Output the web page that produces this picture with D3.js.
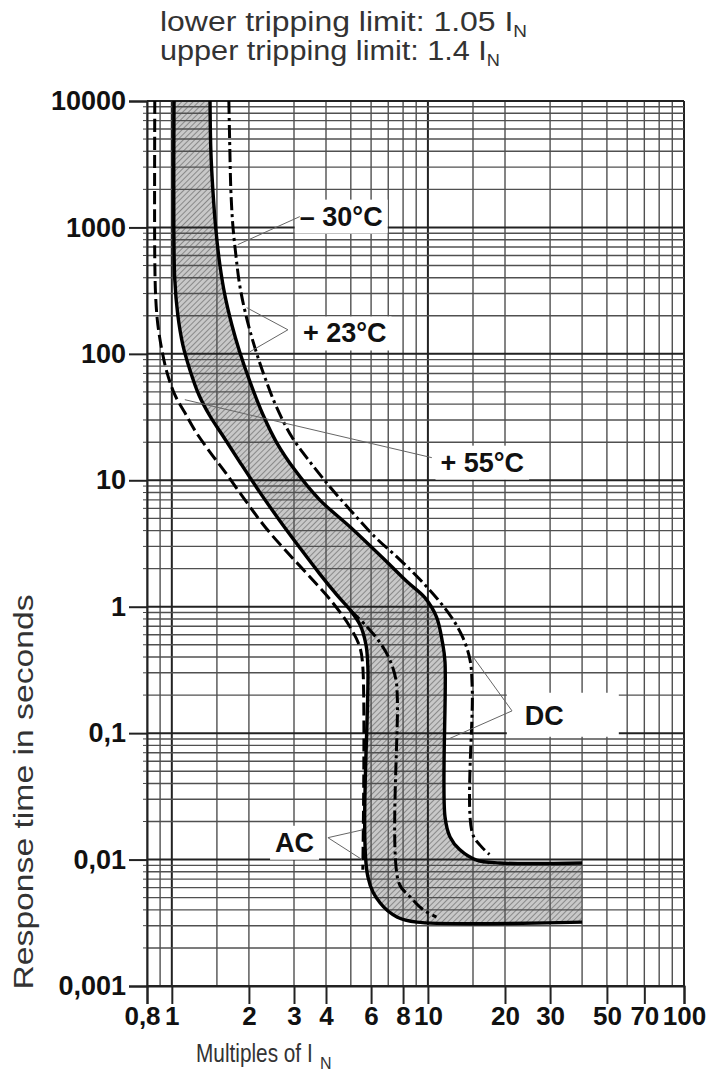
<!DOCTYPE html>
<html>
<head>
<meta charset="utf-8">
<script src="https://cdn.jsdelivr.net/npm/d3@7"></script>
<style>
body { margin: 0; background: #fff; }
svg { display: block; font-family: "Liberation Sans", Arial, Helvetica, sans-serif; }
</style>
</head>
<body>
<div id="chart"></div>
<script>
// curves, points are [multiple of I_N, seconds]
var lowerSolid = [[1.02,10000],[1.018,1153],[1.027,386],[1.055,204],[1.104,118],[1.176,75],[1.275,47.5],[1.407,32.4],[1.582,22.5],[1.84,14.0],[2.2,8.1],[2.64,4.79],[3.16,2.93],[3.78,1.82],[4.41,1.24],[4.96,0.946],[5.43,0.72],[5.73,0.5],[5.83,0.329],[5.83,0.0073],[6.5,0.00455],[7.6,0.0035],[9.05,0.0032],[40,0.0032]];
var upperSolid = [[1.41,10000],[1.42,4130],[1.446,1990],[1.486,961],[1.54,508],[1.61,294],[1.715,170],[1.84,104],[2.02,60],[2.27,33],[2.57,19.8],[3.02,12.1],[3.78,7.0],[4.96,4.29],[6.78,2.35],[8.28,1.58],[9.73,1.18],[10.8,0.83],[11.4,0.52],[11.66,0.367],[11.66,0.0218],[12.2,0.0151],[13.3,0.012],[15.5,0.0099],[19.1,0.0094],[40,0.0094]];
var dashed55 = [[0.858,10000],[0.858,556],[0.866,268],[0.882,170],[0.914,108],[0.956,72],[1.027,47.5],[1.124,34.3],[1.24,24.2],[1.407,16.8],[1.61,11.7],[1.93,7.0],[2.31,4.29],[2.76,2.83],[3.4,1.79],[4.25,1.075],[4.96,0.695],[5.42,0.48],[5.57,0.335],[5.57,0.0083]];
var dashDot30 = [[1.67,10000],[1.685,4130],[1.70,1990],[1.73,1052],[1.778,609],[1.84,352],[1.945,204],[2.11,112],[2.31,64.9],[2.57,37.5],[2.94,22.1],[3.46,14.0],[4.14,8.9],[4.96,5.85],[6.2,3.58],[7.78,2.35],[9.31,1.64],[10.94,1.14],[12.4,0.818],[13.7,0.569],[14.6,0.38],[14.9,0.22],[14.9,0.0163],[16.2,0.0126],[17.4,0.011]];
var dashDotDC = [[4.96,0.946],[5.78,0.695],[6.5,0.52],[7.1,0.38],[7.5,0.265],[7.6,0.184],[7.7,0.00655],[8.5,0.0051],[9.6,0.0040],[10.8,0.0035]];

var xTicks = [0.8,1,2,3,4,6,8,10,20,30,50,70,100];
var xTickLabels = ["0,8","1","2","3","4","6","8","10","20","30","50","70","100"];
var yTicks = [0.001,0.01,0.1,1,10,100,1000,10000];
var yTickLabels = ["0,001","0,01","0,1","1","10","100","1000","10000"];
var xGrid = [0.8,0.9,1,1.5,2,3,4,5,6,7,8,9,10,15,20,30,40,50,60,70,80,90,100];
var yGridSteps = [1,2,3,4,5,6,7,8,9];

// annotations: text, left/baseline anchor, leader polyline
var noteTexts = ["\u2013 30\u00b0C","+ 23\u00b0C","+ 55\u00b0C","DC","AC"];
var noteAnchors = [[3.16,1033],[3.25,123],[11.2,11.7],[23.9,0.1165],[2.53,0.01153]];
var noteLeaders = [
  [[3.16,1218],[1.81,731]],
  [[1.96,232],[2.84,155],[2.02,104]],
  [[10.36,15.1],[1.124,43.4]],
  [[15.0,0.402],[21.3,0.150],[11.86,0.0887]],
  [[5.57,0.0172],[4.07,0.0149],[5.53,0.01]]
];
// white box margin round each label: left, right, top, bottom
var notePads = [[5,5,2,2],[5,5,2,2],[5,5,2,2],[18,55,8,6],[5,5,2,2]];

var width = 718, height = 1074;
var svg = d3.select("#chart").append("svg")
  .attr("width", width)
  .attr("height", height);
svg.append("rect").attr("width", width).attr("height", height).attr("fill", "#fff");

var x = d3.scaleLog().domain([0.8, 100]).range([147, 684]);
var y = d3.scaleLog().domain([0.001, 10000]).range([986, 101]);

// hatch for the tripping band
var defs = svg.append("defs");
var pat = defs.append("pattern")
  .attr("id", "hatch")
  .attr("patternUnits", "userSpaceOnUse")
  .attr("width", 4).attr("height", 4)
  .attr("patternTransform", "rotate(45)");
pat.append("rect").attr("width", 4).attr("height", 4).attr("fill", "#c8c8c8");
pat.append("line").attr("x1", 0).attr("y1", 0).attr("x2", 0).attr("y2", 4)
  .attr("stroke", "#6e6e6e").attr("stroke-width", 1.4);

var line = d3.line()
  .x(function(d) { return x(d[0]); })
  .y(function(d) { return y(d[1]); })
  .curve(d3.curveCatmullRom.alpha(0.5));

// band between lower and upper limit
var bandPath = line(lowerSolid) + "L" + line(upperSolid.slice().reverse()).slice(1) + "Z";
svg.append("path").attr("d", bandPath).attr("fill", "url(#hatch)").attr("stroke", "none");

// grid
var yGrid = [];
yTicks.forEach(function(d) {
  if (d == 10000) { yGrid.push(d); return; }
  yGridSteps.forEach(function(s) { yGrid.push(d * s); });
});
var grid = svg.append("g").attr("class", "grid");
grid.selectAll(".vg").data(xGrid).enter().append("line")
  .attr("x1", function(d) { return x(d); })
  .attr("x2", function(d) { return x(d); })
  .attr("y1", y(10000)).attr("y2", y(0.001))
  .attr("stroke", function(d) { return (d == 1 || d == 10 || d == 100) ? "#222" : "#505050"; })
  .attr("stroke-width", function(d) { return (d == 1 || d == 10 || d == 100) ? 2 : 1.4; });
grid.selectAll(".hg").data(yGrid).enter().append("line")
  .attr("y1", function(d) { return y(d); })
  .attr("y2", function(d) { return y(d); })
  .attr("x1", x(0.8)).attr("x2", x(100))
  .attr("stroke", function(d) { return yTicks.indexOf(d) >= 0 ? "#222" : "#505050"; })
  .attr("stroke-width", function(d) { return yTicks.indexOf(d) >= 0 ? 2 : 1.4; });

// axes
var yAxis = svg.append("g")
  .attr("transform", "translate(" + x(0.8) + ",0)")
  .call(d3.axisLeft(y).tickValues(yTicks)
    .tickFormat(function(d, i) { return yTickLabels[i]; })
    .tickSize(18).tickPadding(3));
var xAxis = svg.append("g")
  .attr("transform", "translate(0," + y(0.001) + ")")
  .call(d3.axisBottom(x).tickValues(xTicks)
    .tickFormat(function(d, i) { return xTickLabels[i]; })
    .tickSize(18).tickPadding(3));
[yAxis, xAxis].forEach(function(g) {
  g.select(".domain").attr("stroke", "#222").attr("stroke-width", 2);
  g.selectAll(".tick line").attr("stroke", "#222").attr("stroke-width", 2);
  g.selectAll(".tick text")
    .attr("fill", "#111")
    .style("font-weight", "bold")
    .style("font-family", "'Liberation Sans', Arial, sans-serif");
});
yAxis.selectAll(".tick text").style("font-size", "27px");
xAxis.selectAll(".tick text").style("font-size", "26px")
  .attr("dx", function(d) { return d == 0.8 ? -5 : 0; });
// small minor ticks on the left axis
svg.append("g").selectAll("line").data(yGrid.filter(function(d) { return yTicks.indexOf(d) < 0; }))
  .enter().append("line")
  .attr("x1", x(0.8) - 4).attr("x2", x(0.8))
  .attr("y1", function(d) { return y(d); })
  .attr("y2", function(d) { return y(d); })
  .attr("stroke", "#444").attr("stroke-width", 1);

// annotation labels with white boxes
var notes = svg.append("g");
noteTexts.forEach(function(t, i) {
  var g = notes.append("g");
  var txt = g.append("text")
    .attr("x", x(noteAnchors[i][0]))
    .attr("y", y(noteAnchors[i][1]))
    .style("font-size", "27px")
    .style("font-weight", "bold")
    .attr("fill", "#111")
    .text(t);
  var bb = txt.node().getBBox(), p = notePads[i];
  g.insert("rect", "text")
    .attr("x", bb.x - p[0]).attr("y", bb.y - p[2])
    .attr("width", bb.width + p[0] + p[1]).attr("height", bb.height + p[2] + p[3])
    .attr("fill", "#fff");
});

// curves
function drawCurve(data, dash, w) {
  svg.append("path")
    .datum(data)
    .attr("d", line)
    .attr("fill", "none")
    .attr("stroke", "#000")
    .attr("stroke-width", w)
    .attr("stroke-dasharray", dash);
}
drawCurve(dashed55, "13,5", 3);
drawCurve(dashDot30, "13,4,3,4", 3);
drawCurve(dashDotDC, "13,4,3,4", 3);
drawCurve(lowerSolid, null, 3.4);
drawCurve(upperSolid, null, 3.4);

// leaders
var straight = d3.line()
  .x(function(d) { return x(d[0]); })
  .y(function(d) { return y(d[1]); });
noteLeaders.forEach(function(pts) {
  svg.append("path").attr("d", straight(pts))
    .attr("fill", "none").attr("stroke", "#666").attr("stroke-width", 1);
});

// titles (the original lettering is set wide, textLength matches it)
var title = svg.append("g").attr("fill", "#333").style("font-size", "27px");
var t1 = title.append("text").attr("x", 160).attr("y", 31)
  .attr("textLength", 367).attr("lengthAdjust", "spacingAndGlyphs");
t1.append("tspan").text("lower tripping limit: 1.05 I");
t1.append("tspan").attr("dy", 6).style("font-size", "16px").text("N");
var t2 = title.append("text").attr("x", 160).attr("y", 60)
  .attr("textLength", 340).attr("lengthAdjust", "spacingAndGlyphs");
t2.append("tspan").text("upper tripping limit: 1.4 I");
t2.append("tspan").attr("dy", 6).style("font-size", "16px").text("N");

// x title is set narrow in the original
var xt = svg.append("g").attr("fill", "#333");
xt.append("text").attr("transform", "translate(196,1062) scale(0.8,1)")
  .style("font-size", "26px")
  .text("Multiples of I");
xt.append("text").attr("x", 320).attr("y", 1069)
  .style("font-size", "16px")
  .text("N");

svg.append("text")
  .attr("transform", "translate(33,792) rotate(-90)")
  .attr("text-anchor", "middle")
  .attr("fill", "#333")
  .style("font-size", "27px")
  .attr("textLength", 395).attr("lengthAdjust", "spacingAndGlyphs")
  .text("Response time in seconds");
</script>
</body>
</html>
